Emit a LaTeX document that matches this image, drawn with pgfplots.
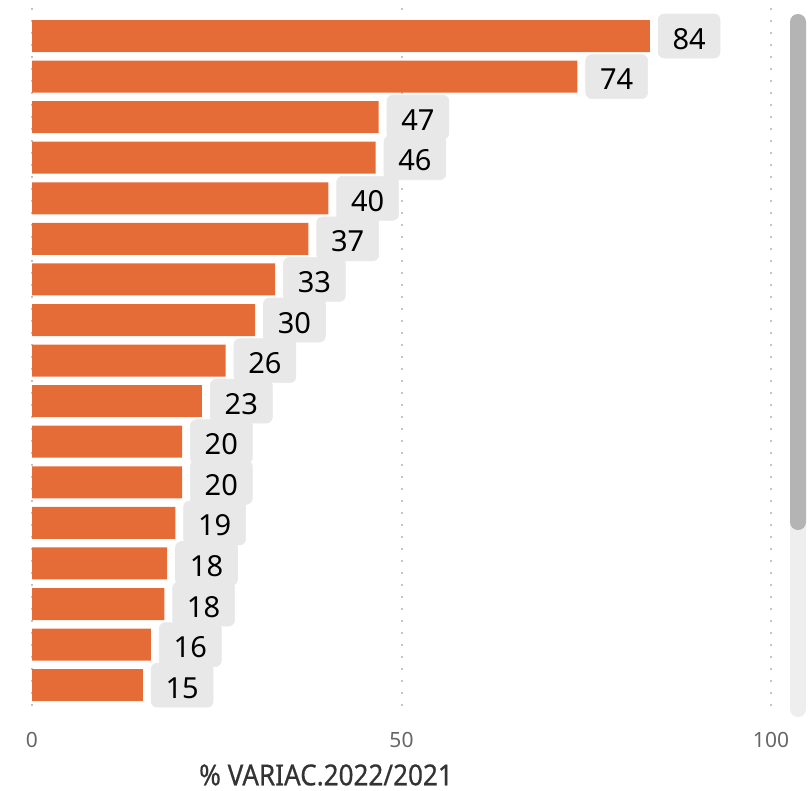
\documentclass[border=0pt]{standalone}
\usepackage{pgfplots}
\pgfplotsset{compat=1.18}
\usepackage{fontspec}
\setmainfont{Noto Sans}
\newfontfamily\condfont[FakeStretch=0.90,FakeBold=0.5]{Noto Sans}
\definecolor{barorange}{HTML}{E66C37}
\definecolor{boxgray}{HTML}{E8E8E8}
\definecolor{tickgray}{HTML}{666666}
\definecolor{gridgray}{HTML}{C4C4C4}
\definecolor{trackgray}{HTML}{EEEEEE}
\definecolor{thumbgray}{HTML}{B4B4B4}
\definecolor{titlegray}{HTML}{333333}

\begin{document}
\begin{tikzpicture}
  \useasboundingbox (0,0) rectangle (811pt,-790pt);
  \begin{axis}[
      scale only axis,
      width=739pt, height=708pt,
      at={(32pt,-716pt)}, anchor=south west,
      xbar, bar width=32pt,
      xmin=0, xmax=100,
      ymin=-0.69, ymax=16.76,
      y dir=reverse,
      ytick=\empty,
      xtick={0,50,100},
      axis line style={draw=none},
      major tick length=0pt,
      xmajorgrids,
      grid style={draw=gridgray, line width=2pt, dash pattern=on 2pt off 10pt},
      /pgf/number format/assume math mode=true,
      xticklabel style={anchor=center, yshift=-24pt, text=tickgray,
        font=\fontsize{21}{24}\selectfont},
      point meta=explicit symbolic,
      nodes near coords={\pgfplotspointmeta},
      every node near coord/.append style={anchor=west, xshift=8pt,
        fill=boxgray, draw=black!9, line width=0.6pt, rounded corners=6pt,
        minimum width=62pt, minimum height=44pt, inner sep=0pt, text=black,
        text height=26pt, text depth=0pt,
        font=\fontsize{29}{32}\selectfont},
    ]
    \addplot[fill=barorange, draw=none] coordinates {
      (83.6,0) [84]
      (73.8,1) [74]
      (46.9,2) [47]
      (46.5,3) [46]
      (40.1,4) [40]
      (37.4,5) [37]
      (32.9,6) [33]
      (30.2,7) [30]
      (26.2,8) [26]
      (23.0,9) [23]
      (20.3,10) [20]
      (20.3,11) [20]
      (19.4,12) [19]
      (18.3,13) [18]
      (17.9,14) [18]
      (16.1,15) [16]
      (15.0,16) [15]
    };
  \end{axis}
  % scrollbar
  \fill[trackgray, rounded corners=8pt] (790pt,-14pt) rectangle (806pt,-717pt);
  \fill[thumbgray, rounded corners=8pt] (790pt,-14pt) rectangle (806pt,-530pt);
  % axis title
  \node[inner sep=0pt, text=titlegray, font=\condfont\fontsize{29}{32}\selectfont] at (326pt,-775pt) {\% VARIAC.2022/2021};
\end{tikzpicture}
\end{document}
